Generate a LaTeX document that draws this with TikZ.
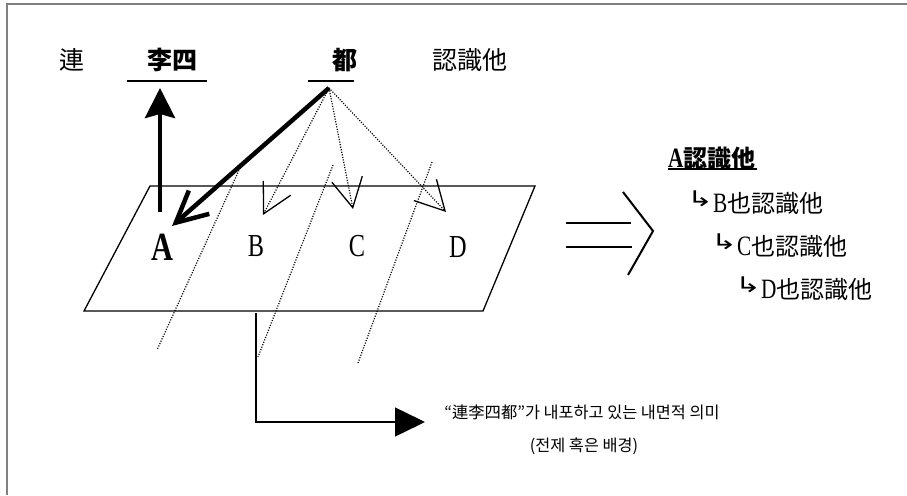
\documentclass[tikz,border=0pt]{standalone}
\usepackage{fontspec}
\usepackage{graphicx}
\setmainfont{Liberation Serif}
\newfontfamily\kr{Noto Sans CJK KR}
\newfontfamily\symf{DejaVu Sans}
\usetikzlibrary{arrows.meta}
\newcommand{\narrow}[2]{\scalebox{0.76}[1]{\fontsize{#1}{#1}\selectfont #2}}
\newcommand{\hookarrow}{\makebox[25pt][l]{\hspace{-1pt}\raisebox{6pt}{\scalebox{1.15}[0.8]{\symf\fontsize{27}{27}\selectfont ↳}}}}
\begin{document}
\begin{tikzpicture}[x=1pt,y=-1pt,
  every node/.style={inner sep=0pt, outer sep=0pt},
  topword/.style={font=\kr\fontsize{25}{25}\selectfont},
  topbold/.style={font=\kr\bfseries\fontsize{25}{25}\selectfont},
  uline/.style={line width=2pt},
  thickarrow/.style={line width=4.5pt},
  dots/.style={line width=1.2pt, dash pattern=on 1.1pt off 1.5pt},
  plane/.style={line width=1.3pt},
  barb/.style={-{Straight Barb[length=29pt,width=31pt,line width=1.3pt]}},
  rowtext/.style={anchor=base west},
  note/.style={font=\kr\fontsize{16.3}{16.3}\selectfont}]
\useasboundingbox (0,0) rectangle (907,495);
% frame (left and top edges)
\draw[line width=2pt, gray] (7,495) -- (7,4) -- (907,4);

% top row
\node[topword] (lian) at (72,60) {連};
\node[topbold] (lisi) at (172,60) {李四};
\node[topbold] (dou) at (345,60) {都};
\node[topword] (renshi) at (470,60) {認識他};
\draw[uline] (127,81) -- (207,81);
\draw[uline] (308,81) -- (354,81);

% plane
\draw[plane] (150,186) -- (535,186) -- (483,311) -- (84,311) -- cycle;

% letters on plane
\node (A) at (162,247) {\narrow{40}{\bfseries A}};
\node (B) at (256,246) {\narrow{32}{B}};
\node (C) at (357,246) {\narrow{32}{C}};
\node (D) at (458,247) {\narrow{32}{D}};

% long dotted lines
\coordinate (l1a) at (240,168); \coordinate (l1b) at (157,350);
\coordinate (l2a) at (333,165); \coordinate (l2b) at (258,357);
\coordinate (l3a) at (432,162); \coordinate (l3b) at (358,363);
\draw[dots] (l1a) -- (l1b);
\draw[dots] (l2a) -- (l2b);
\draw[dots] (l3a) -- (l3b);

% arrows
\coordinate (du) at (329,88);
\coordinate (tipA) at (172,226);
\coordinate (tipB) at (263,215);
\coordinate (tipC) at (353,209);
\coordinate (tipD) at (446,212);
\coordinate (upS) at (160,212);
\coordinate (upT) at (160,88);
\draw[thickarrow, -{Stealth[length=30pt,width=30pt,inset=4pt]}] (upS) -- (upT);
\draw[thickarrow, -{Straight Barb[length=31pt,width=31pt,line width=4.5pt]}] (du) -- (tipA);
\draw[dots, barb] (du) -- (tipB);
\draw[dots, barb] (du) -- (tipC);
\draw[dots, barb] (du) -- (tipD);

% implication symbol
\draw[line width=2pt] (566,223) -- (631,223);
\draw[line width=2pt] (566,247) -- (632,247);
\draw[line width=2pt] (623,192) -- (653,231) -- (628,275);

% right text
\node[rowtext] (ra) at (668,167) {\narrow{28}{\bfseries A}{\kr\bfseries\fontsize{24}{24}\selectfont 認識他}};
\draw[line width=1.3pt] (668,169) -- (757,169);
\node[rowtext] (rb) at (688,212) {\hookarrow\narrow{28}{B}{\kr\fontsize{24}{24}\selectfont 也認識他}};
\node[rowtext] (rc) at (712,255) {\hookarrow\narrow{28}{C}{\kr\fontsize{24}{24}\selectfont 也認識他}};
\node[rowtext] (rd) at (736,298) {\hookarrow\narrow{28}{D}{\kr\fontsize{24}{24}\selectfont 也認識他}};

% bottom arrow and note
\coordinate (bs) at (256,313);
\coordinate (bt) at (425,422);
\draw[line width=1.5pt, -{Triangle[length=30pt,width=29pt]}] (bs) |- (bt);
\node[note] (n1) at (582,412) {“連李四都”가 내포하고 있는 내면적 의미};
\node[note] (n2) at (584,446) {(전제 혹은 배경)};
\end{tikzpicture}
\end{document}
